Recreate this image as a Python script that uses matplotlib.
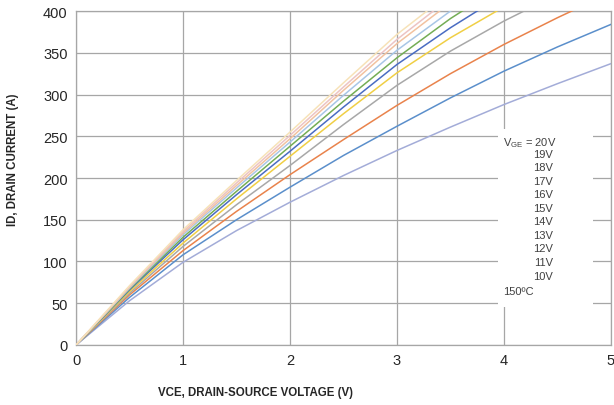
import numpy as np
import matplotlib.pyplot as plt
from matplotlib import font_manager
from matplotlib.patches import Rectangle

plt.rcParams['font.family'] = ['Liberation Sans', 'DejaVu Sans']

# drain-source voltage sample points (V)
vce = [0, 0.5, 1, 1.5, 2, 2.5, 3, 3.5, 4, 4.5, 5]

# drain current (A), one list per gate voltage
id_10v = [0, 53, 99, 137, 171, 203, 233, 261, 288, 313, 337]
id_11v = [0, 57, 108, 150, 189, 227, 262, 296, 328, 357, 384]
id_12v = [0, 60, 113, 160, 204, 246, 287, 325, 360, 392, 422]
id_13v = [0, 62, 118, 168, 215, 264, 311, 352, 388, 420, 450]
id_14v = [0, 64, 122, 175, 226, 277, 326, 368, 405, 440, 472]
id_15v = [0, 66, 126, 180, 232, 285, 336, 380, 420, 455, 488]
id_16v = [0, 67, 129, 184, 238, 292, 344, 391, 432, 468, 500]
id_17v = [0, 68, 132, 188, 243, 299, 353, 400, 440, 476, 508]
id_18v = [0, 69, 134, 191, 247, 305, 361, 410, 452, 490, 522]
id_19v = [0, 70, 136, 194, 251, 309, 366, 416, 460, 500, 534]
id_20v = [0, 71, 138, 197, 255, 314, 372, 422, 468, 508, 545]

curves = [id_10v, id_11v, id_12v, id_13v, id_14v, id_15v,
          id_16v, id_17v, id_18v, id_19v, id_20v]
colors = ['#a3acd8', '#5b8fcb', '#e9834c', '#a8a8a8', '#f0cf45', '#4a6cc2',
          '#74ad55', '#a8c6e6', '#f2c2a0', '#ecc4c4', '#f7e2b8']

vge_labels = ['19V', '18V', '17V', '16V', '15V', '14V', '13V', '12V', '11V', '10V']

# narrow bold font for the axis titles if it is there
names = {f.name for f in font_manager.fontManager.ttflist}
if 'Liberation Sans Narrow' in names:
    lab_font, lab_size = 'Liberation Sans Narrow', 9.5
else:
    lab_font, lab_size = 'Liberation Sans', 8.3

fig = plt.figure(figsize=(6.14, 4.06), dpi=100)
ax = fig.add_axes([0.1238, 0.1478, 0.8713, 0.8226])

for y, c in zip(curves, colors):
    ax.plot(vce, y, color=c, lw=1.1, zorder=3)

ax.set_xlim(0, 5)
ax.set_ylim(0, 400)
ax.set_xticks(range(0, 6))
ax.set_yticks(range(0, 401, 50))
ax.grid(True, color='#a6a6a6', lw=0.9, zorder=1)
ax.set_axisbelow(True)
for s in ax.spines.values():
    s.set_color('#a6a6a6')
    s.set_linewidth(0.9)
ax.tick_params(length=0, labelsize=10.5, colors='#262626', pad=6)

# white label box covering the grid
ax.add_patch(Rectangle((3.94, 45), 0.89, 214, facecolor='white',
                       edgecolor='none', zorder=2))

ax.text(3.99, 243, r'V$_{\mathregular{GE}}$ = 20V', fontsize=8, color='#404040',
        va='center', ha='left', zorder=4)
for i, lab in enumerate(vge_labels):
    ax.text(4.46, 229 - i * 16.2, lab, fontsize=8, color='#404040',
            va='center', ha='right', zorder=4)
ax.text(3.99, 65, '150ºC', fontsize=8, color='#404040', va='center',
        ha='left', zorder=4)

ax.set_xlabel('VCE, DRAIN-SOURCE VOLTAGE (V)', fontsize=lab_size,
              fontweight='bold', color='#262626', family=[lab_font, 'DejaVu Sans'],
              va='center')
ax.set_ylabel('ID, DRAIN CURRENT (A)', fontsize=lab_size,
              fontweight='bold', color='#262626', family=[lab_font, 'DejaVu Sans'],
              va='center')
ax.xaxis.set_label_coords(0.335, -0.141)
ax.yaxis.set_label_coords(-0.118, 0.557)

fig.savefig('out.png', dpi=100)
